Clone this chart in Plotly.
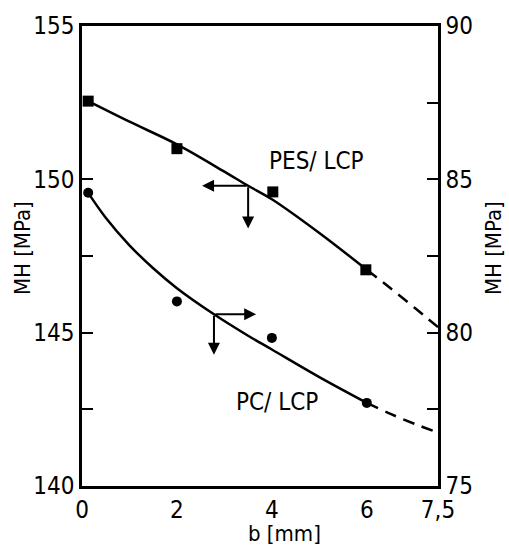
import plotly.graph_objects as go

# Measured points
pes_x = [0.13, 2.0, 4.02, 5.98]
pes_y = [152.55, 151.0, 149.59, 147.05]          # left axis
pc_x = [0.13, 2.0, 4.0, 6.0]
pc_y = [84.56, 81.02, 79.83, 77.71]              # right axis

# Fitted curves (solid part, dashed extrapolation)
pes_fit_x = [0.13, 1, 2, 3, 3.5, 4, 5, 6]
pes_fit_y = [152.55, 151.88, 151.14, 150.25, 149.79, 149.35, 148.25, 147.05]
pes_ext_x = [6, 6.5, 7, 7.5]
pes_ext_y = [147.05, 146.45, 145.82, 145.18]

pc_fit_x = [0.13, 0.5, 1, 1.5, 2, 2.78, 3.5, 4, 5, 6]
pc_fit_y = [84.56, 83.75, 82.85, 82.1, 81.45, 80.6, 79.9, 79.45, 78.55, 77.71]
pc_ext_x = [6, 6.5, 7, 7.5]
pc_ext_y = [77.71, 77.35, 77.03, 76.74]

x_ticks = [0, 2, 4, 6, 7.5]
x_ticktext = ["0", "2", "4", "6", "7,5"]
yl_ticks = [140, 145, 150, 155]
yl_minor = [142.5, 147.5]
yr_ticks = [75, 80, 85, 90]
yr_minor = [77.5, 82.5, 87.5]

FONT = "DejaVu Sans Condensed"
FS = 24
TFS = 22
LW = 2.5

fig = go.Figure()
fig.add_trace(go.Scatter(x=pes_fit_x, y=pes_fit_y, mode="lines", line=dict(color="black", width=LW, shape="spline"), yaxis="y"))
fig.add_trace(go.Scatter(x=pes_ext_x, y=pes_ext_y, mode="lines", line=dict(color="black", width=LW, dash="12px,8px", shape="spline"), yaxis="y"))
fig.add_trace(go.Scatter(x=pes_x, y=pes_y, mode="markers", marker=dict(symbol="square", size=11, color="black"), yaxis="y"))
fig.add_trace(go.Scatter(x=pc_fit_x, y=pc_fit_y, mode="lines", line=dict(color="black", width=LW, shape="spline"), yaxis="y2"))
fig.add_trace(go.Scatter(x=pc_ext_x, y=pc_ext_y, mode="lines", line=dict(color="black", width=LW, dash="12px,8px", shape="spline"), yaxis="y2"))
fig.add_trace(go.Scatter(x=pc_x, y=pc_y, mode="markers", marker=dict(symbol="circle", size=10, color="black"), yaxis="y2"))

def arrow(x, y, ax, ay, yref):
    return dict(x=x, y=y, ax=ax, ay=ay, xref="x", yref=yref, axref="x", ayref=yref,
                text="", showarrow=True, arrowhead=2, arrowsize=1.2, arrowwidth=2, arrowcolor="black")

L, R, T, B = 82, 71, 20, 63
pw, ph = 509 - L - R, 549 - T - B

def label(text, px, py, angle=0, size=FS):
    return dict(text=text, x=(px - L) / pw, y=1 - (py - T) / ph, xref="paper", yref="paper",
                xanchor="center", yanchor="middle", showarrow=False, textangle=angle,
                font=dict(family=FONT, size=size, color="black"))

annotations = [
    # PES arrows (left axis)
    arrow(2.53, 149.79, 3.5, 149.79, "y"),
    arrow(3.5, 148.40, 3.5, 149.79, "y"),
    # PC arrows (right axis)
    arrow(3.67, 80.60, 2.78, 80.60, "y2"),
    arrow(2.78, 79.28, 2.78, 80.60, "y2"),
    label("PES/ LCP", 316, 157),
    label("PC/ LCP", 277, 401),
    label("MH [MPa]", 22, 245, -90, TFS),
    label("MH [MPa]", 493, 245, -90, TFS),
    label("b [mm]", 284, 534, 0, TFS),
]

fig.update_layout(
    width=509, height=549,
    margin=dict(l=L, r=R, t=T, b=B),
    paper_bgcolor="white", plot_bgcolor="white",
    showlegend=False,
    font=dict(family=FONT, size=FS, color="black"),
    xaxis=dict(range=[0, 7.5], tickvals=x_ticks, ticktext=x_ticktext, showline=True, linecolor="black",
               linewidth=LW, mirror=True, ticks="", showgrid=False, zeroline=False),
    yaxis=dict(range=[140, 155], tickvals=yl_ticks, showline=True, linecolor="black", linewidth=LW,
               ticks="inside", ticklen=11, tickwidth=2, tickcolor="black", showgrid=False, zeroline=False,
               minor=dict(tickvals=yl_minor, ticks="inside", ticklen=11, tickwidth=2, tickcolor="black", showgrid=False)),
    yaxis2=dict(range=[75, 90], tickvals=yr_ticks, overlaying="y", side="right", showline=True,
                linecolor="black", linewidth=LW, ticks="inside", ticklen=11, tickwidth=2, tickcolor="black",
                showgrid=False, zeroline=False,
                minor=dict(tickvals=yr_minor, ticks="inside", ticklen=11, tickwidth=2, tickcolor="black", showgrid=False)),
    annotations=annotations,
)

fig.write_html("out.html")
